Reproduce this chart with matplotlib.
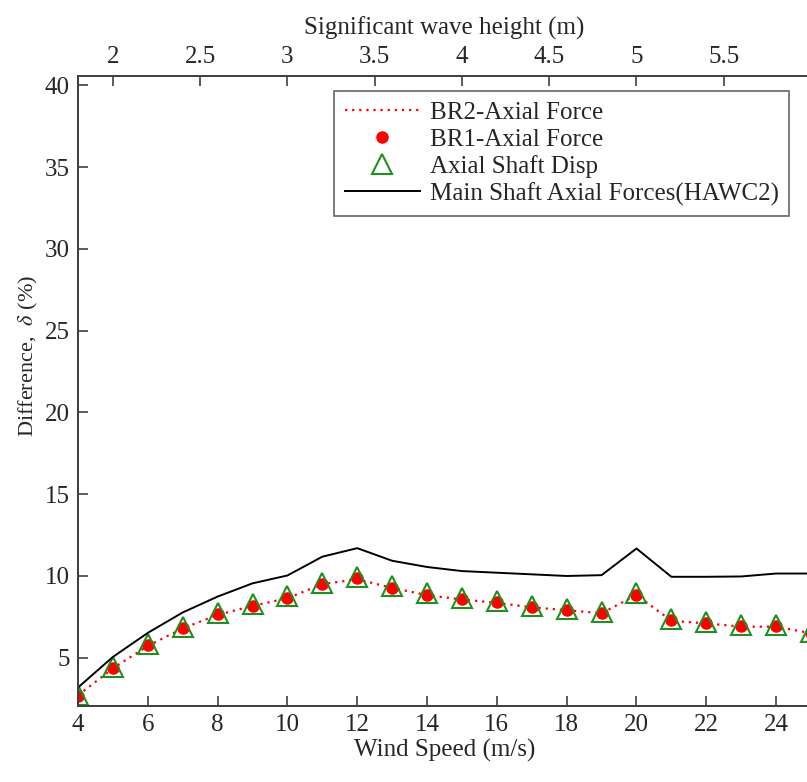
import numpy as np
import matplotlib
matplotlib.use("Agg")
import matplotlib.pyplot as plt

# data
wind_speed = [4, 5, 6, 7, 8, 9, 10, 11, 12, 13, 14, 15, 16, 17, 18, 19, 20, 21, 22, 23, 24, 25]
hawc2 = [3.18, 5.05, 6.52, 7.77, 8.74, 9.55, 10.03, 11.18, 11.70, 10.93, 10.55, 10.30, 10.20,
         10.10, 10.00, 10.05, 11.68, 9.95, 9.95, 9.97, 10.15, 10.15]
br1 = [2.67, 4.37, 5.75, 6.82, 7.65, 8.19, 8.66, 9.51, 9.86, 9.29, 8.85, 8.58, 8.38,
       8.10, 7.93, 7.73, 8.85, 7.28, 7.12, 6.92, 6.92, 6.50]
br2 = [2.70, 4.35, 5.72, 6.80, 7.62, 8.17, 8.64, 9.50, 9.80, 9.27, 8.83, 8.56, 8.36,
       8.08, 7.91, 7.72, 8.84, 7.26, 7.10, 6.90, 6.90, 6.50]
shaft_disp = [2.75, 4.45, 5.83, 6.90, 7.73, 8.27, 8.75, 9.60, 9.95, 9.38, 8.93, 8.66, 8.46,
              8.18, 8.01, 7.81, 8.93, 7.36, 7.20, 7.00, 7.00, 6.58]
wave_ticks = [2, 2.5, 3, 3.5, 4, 4.5, 5, 5.5]

plt.rcParams['font.family'] = ['Liberation Serif', 'DejaVu Serif']
plt.rcParams['mathtext.fontset'] = 'stix'
txt = '#262626'
fs = 18

fig = plt.figure(figsize=(8.07, 7.82), dpi=100)
ax = fig.add_axes([78 / 807, 1 - 706 / 782, (811 - 78) / 807, (706 - 76) / 782])

ax.plot(wind_speed, br2, linestyle=(0, (1, 2.2)), color='red', linewidth=1.6,
        label='BR2-Axial Force')
ax.plot(wind_speed, br1, 'o', color='red', markersize=8, label='BR1-Axial Force')
ax.plot(wind_speed, shaft_disp, '^', markerfacecolor='none', markeredgecolor='#1f8f1f',
        markeredgewidth=1.5, markersize=14, label='Axial Shaft Disp')
ax.plot(wind_speed, hawc2, color='black', linewidth=1.4,
        label='Main Shaft Axial Forces(HAWC2)')

ax.set_xlim(4, 25)
ax.set_ylim(2.05, 40.57)
ax.set_xticks(np.arange(4, 25, 2))
ax.set_yticks(np.arange(5, 41, 5))
ax.tick_params(direction='in', length=7, width=1.2, colors='#404040', labelcolor=txt,
               labelsize=fs, pad=6)
ax.set_xlabel('Wind Speed (m/s)', fontsize=fs, color=txt, labelpad=2)
ax.set_ylabel(r'Difference,  $\delta$ (%)', fontsize=16, color=txt)
ax.yaxis.set_label_coords(-0.052, 0.555)
for s in ax.spines.values():
    s.set_color('#404040')
    s.set_linewidth(1.3)
ax.spines['right'].set_visible(False)

# top axis: significant wave height
ax2 = ax.twiny()
ax2.set_xlim(1.8, 6.0)
ax2.set_xticks(wave_ticks)
ax2.set_xticklabels([f'{v:g}' for v in wave_ticks])
ax2.tick_params(direction='in', length=7, width=1.2, colors='#404040', labelcolor=txt,
                labelsize=fs, pad=6)
ax2.set_xlabel('Significant wave height (m)', fontsize=fs, color=txt, labelpad=8)
for s in ax2.spines.values():
    s.set_color('#404040')
    s.set_linewidth(1.3)
ax2.spines['right'].set_visible(False)

leg = ax.legend(loc='upper right', bbox_to_anchor=(789 / 807, 1 - 91 / 782),
                bbox_transform=fig.transFigure, fontsize=fs, frameon=True,
                fancybox=False, handlelength=3.0, handletextpad=0.4,
                labelspacing=0.17, borderpad=0.42, borderaxespad=0)
leg.get_frame().set_edgecolor('#404040')
leg.get_frame().set_linewidth(1.2)
for t in leg.get_texts():
    t.set_color(txt)

fig.savefig('out.png', dpi=100)
